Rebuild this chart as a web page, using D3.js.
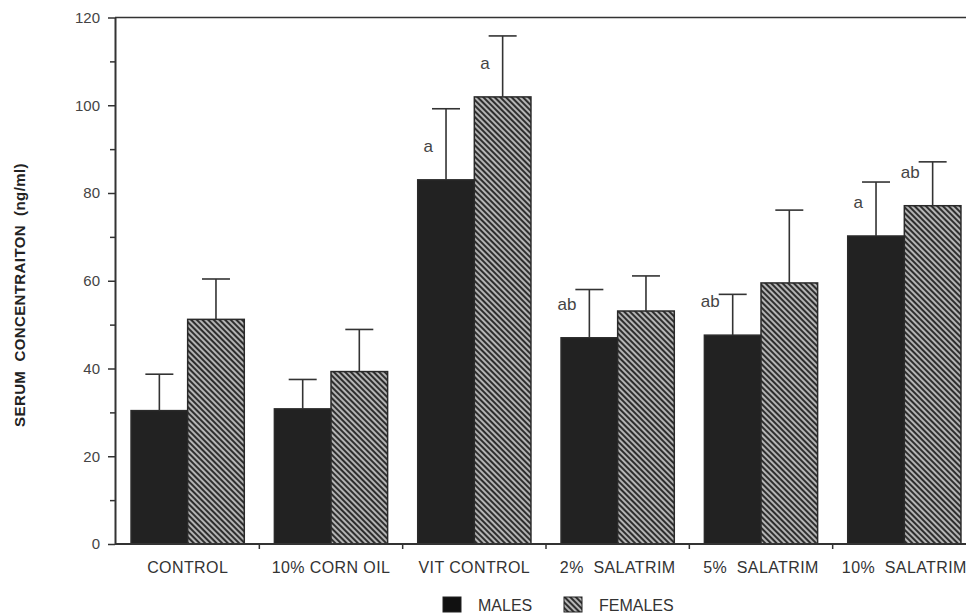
<!DOCTYPE html>
<html>
<head>
<meta charset="utf-8">
<script src="https://cdn.jsdelivr.net/npm/d3@7"></script>
<style>
body { margin: 0; background: #fff; }
svg { display: block; font-family: "Liberation Sans", Arial, sans-serif; }
</style>
</head>
<body>
<div class="graphic"></div>
<script>
// values
var categories = ["CONTROL", "10% CORN OIL", "VIT CONTROL", "2%  SALATRIM", "5%  SALATRIM", "10%  SALATRIM"];
var series = ["MALES", "FEMALES"];
var males = [30.4, 30.8, 83.0, 47.0, 47.6, 70.2];
var malesErr = [8.3, 6.7, 16.2, 11.0, 9.3, 12.3];
var females = [51.2, 39.3, 101.9, 53.1, 59.5, 77.1];
var femalesErr = [9.2, 9.6, 13.9, 8.0, 16.6, 10.0];
var malesLetter = ["", "", "a", "ab", "ab", "a"];
var femalesLetter = ["", "", "a", "", "", "ab"];
var yTicks = [0, 20, 40, 60, 80, 100, 120];
var yMinor = [10, 30, 50, 70, 90, 110];

var width = 966;
var height = 615;
var svg = d3.select("div.graphic").append("svg")
	.attr("width", width)
	.attr("height", height);

var defs = svg.append("defs");
var hatch = defs.append("pattern")
	.attr("id", "hatch")
	.attr("patternUnits", "userSpaceOnUse")
	.attr("width", 4)
	.attr("height", 4)
	.attr("patternTransform", "rotate(-45)");
hatch.append("rect").attr("width", 4).attr("height", 4).attr("fill", "#b4b4b4");
hatch.append("rect").attr("width", 2).attr("height", 4).attr("fill", "#2e2e2e");

var y = d3.scaleLinear().domain([0, 120]).range([544, 17.5]);
var x0 = d3.scaleBand()
	.domain(categories)
	.range([116, 976])
	.paddingInner(0.21)
	.paddingOuter(0.105);
var x1 = d3.scaleBand().domain(series).range([0, x0.bandwidth()]);

var rows = categories.map(function(c, i){
	return [
		{cat: c, s: "MALES", v: males[i], e: malesErr[i], l: malesLetter[i]},
		{cat: c, s: "FEMALES", v: females[i], e: femalesErr[i], l: femalesLetter[i]}
	];
});
var flat = [].concat.apply([], rows);

// bars
var bars = svg.append("g");
bars.selectAll("rect")
	.data(flat)
	.enter()
	.append("rect")
	.attr("x", function(d){ return x0(d.cat) + x1(d.s); })
	.attr("y", function(d){ return y(d.v); })
	.attr("width", x1.bandwidth())
	.attr("height", function(d){ return y(0) - y(d.v); })
	.attr("fill", function(d){ return d.s == "MALES" ? "#222" : "url(#hatch)"; })
	.attr("stroke", "#2a2a2a")
	.attr("stroke-width", 1.5);

// error bars
var err = svg.append("g").attr("stroke", "#333").attr("stroke-width", 1.6);
function cx(d){ return x0(d.cat) + x1(d.s) + x1.bandwidth() / 2; }
err.selectAll("line.v")
	.data(flat)
	.enter()
	.append("line")
	.attr("class", "v")
	.attr("x1", cx).attr("x2", cx)
	.attr("y1", function(d){ return y(d.v); })
	.attr("y2", function(d){ return y(d.v + d.e); });
err.selectAll("line.c")
	.data(flat)
	.enter()
	.append("line")
	.attr("class", "c")
	.attr("x1", function(d){ return cx(d) - 14; })
	.attr("x2", function(d){ return cx(d) + 14; })
	.attr("y1", function(d){ return y(d.v + d.e); })
	.attr("y2", function(d){ return y(d.v + d.e); });

// significance letters
svg.append("g").selectAll("text")
	.data(flat.filter(function(d){ return d.l != ""; }))
	.enter()
	.append("text")
	.attr("x", function(d){ return cx(d) - 13; })
	.attr("y", function(d){ return y(d.v) - 28; })
	.attr("text-anchor", "end")
	.attr("font-size", 17)
	.attr("fill", "#444")
	.text(function(d){ return d.l; });

// y axis
var yAxis = svg.append("g")
	.attr("transform", "translate(115,0)")
	.call(d3.axisLeft(y).tickValues(yTicks).tickSize(7).tickPadding(8).tickSizeOuter(0));
yAxis.select(".domain").attr("stroke", "#333").attr("stroke-width", 2);
yAxis.selectAll(".tick line").attr("stroke", "#333").attr("stroke-width", 1.5);
yAxis.selectAll("text").attr("font-size", 15).attr("fill", "#444")
	.attr("font-family", "Liberation Sans, Arial, sans-serif");
var yMin = svg.append("g")
	.attr("transform", "translate(115,0)")
	.call(d3.axisLeft(y).tickValues(yMinor).tickSize(5).tickFormat("").tickSizeOuter(0));
yMin.select(".domain").remove();
yMin.selectAll(".tick line").attr("stroke", "#333").attr("stroke-width", 1.5);

// top frame line
svg.append("line")
	.attr("x1", 115).attr("x2", width)
	.attr("y1", y(120)).attr("y2", y(120))
	.attr("stroke", "#333").attr("stroke-width", 1.5);

// x axis
var xAxis = svg.append("g")
	.attr("transform", "translate(0," + y(0) + ")")
	.call(d3.axisBottom(x0).tickSize(0).tickPadding(18));
xAxis.select(".domain").remove();
xAxis.selectAll("text").attr("font-size", 16).attr("fill", "#333")
	.attr("font-family", "Liberation Sans, Arial, sans-serif")
	.style("white-space", "pre")
	.attr("letter-spacing", 0.4);
svg.append("line")
	.attr("x1", 115).attr("x2", width)
	.attr("y1", y(0)).attr("y2", y(0))
	.attr("stroke", "#333").attr("stroke-width", 2);
var step = x0.step();
svg.append("g").selectAll("line")
	.data(categories.slice(1))
	.enter()
	.append("line")
	.attr("x1", function(d){ return x0(d) - step * 0.105; })
	.attr("x2", function(d){ return x0(d) - step * 0.105; })
	.attr("y1", y(0))
	.attr("y2", y(0) + 5)
	.attr("stroke", "#333").attr("stroke-width", 1.5);

// y title
svg.append("text")
	.attr("transform", "translate(25,295) rotate(-90)")
	.attr("text-anchor", "middle")
	.attr("font-size", 15)
	.attr("font-weight", "bold")
	.attr("fill", "#222")
	.attr("letter-spacing", 0.4)
	.style("white-space", "pre")
	.text("SERUM  CONCENTRAITON  (ng/ml)");

// legend
var legend = svg.append("g");
var legX = [443, 564];
legend.selectAll("rect")
	.data(series)
	.enter()
	.append("rect")
	.attr("x", function(d, i){ return legX[i]; })
	.attr("y", 597)
	.attr("width", 18)
	.attr("height", 15)
	.attr("fill", function(d){ return d == "MALES" ? "#111" : "url(#hatch)"; })
	.attr("stroke", "#222")
	.attr("stroke-width", 1);
legend.selectAll("text")
	.data(series)
	.enter()
	.append("text")
	.attr("x", function(d, i){ return legX[i] + 35; })
	.attr("y", 611)
	.attr("font-size", 16)
	.attr("fill", "#333")
	.text(function(d){ return d; });
</script>
</body>
</html>
